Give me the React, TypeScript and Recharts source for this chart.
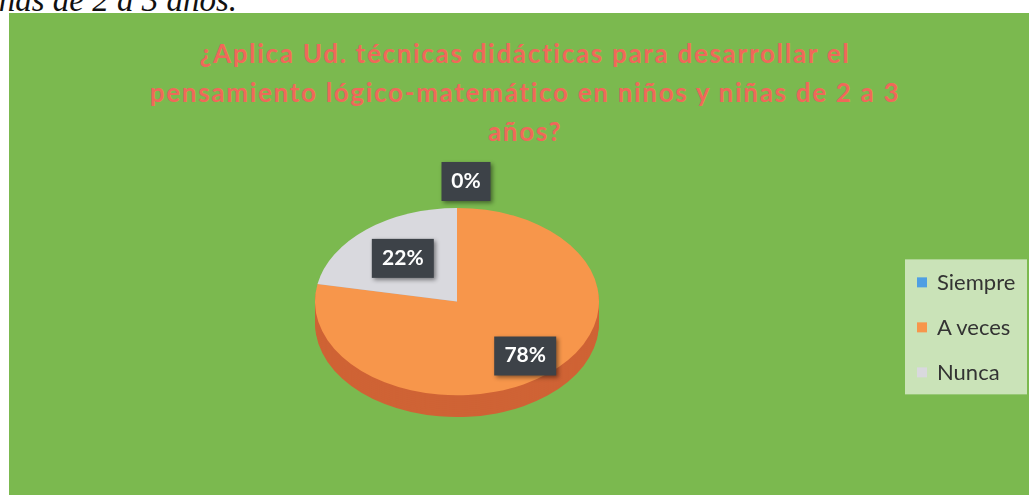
import { PieChart, Pie, Cell, Legend } from "recharts"

const categories = ["Siempre", "A veces", "Nunca"]
const values = [0, 78, 22]
const titleLines = [
    "¿Aplica Ud. técnicas didácticas para desarrollar el",
    "pensamiento lógico-matemático en niños y niñas de 2 a 3",
    "años?",
]

const TOP_COLORS = ["#4f9fe3", "#f7964b", "#d9d9de"]
const SIDE_COLORS = ["#2f78b8", "#cf6335", "#a8a8ae"]

// label placement per slice (unscaled px from centre)
const LABEL_R = [182, 107, 85]
const LABEL_DX = [9, 0, 0]

const SY = 0.66
const CX = 448
const CY = 260
const R = 142
const DEPTH = 33
const CHART_TOP = 302 - CY * SY

const data = categories.map((name, i) => ({ name, value: values[i] }))
const layers: number[] = []
for (let d = DEPTH; d > 0; d -= 3) layers.push(d)

const RAD = Math.PI / 180

function renderLabel(props: any) {
    const { cx, cy, midAngle, index, percent } = props
    const r = LABEL_R[index]
    const x = cx + r * Math.cos(-midAngle * RAD) + LABEL_DX[index]
    const y = cy + r * Math.sin(-midAngle * RAD)
    const txt = Math.round(percent * 100) + "%"
    const w = 23 + 13 * txt.length
    const h = 39
    return (
        <g transform={`translate(${x},${y}) scale(1,${1 / SY})`}>
            <rect x={-w / 2} y={-h / 2} width={w} height={h} fill="#3d4248"
                style={{ filter: "drop-shadow(2px 2px 2px rgba(0,0,0,0.45))" }} />
            <text x={0} y={1} textAnchor="middle" dominantBaseline="middle" fill="#ffffff"
                fontFamily="Lato, sans-serif" fontWeight={700} fontSize={21}>
                {txt}
            </text>
        </g>
    )
}

// legend built straight from the category list
function LegendBox() {
    return (
        <div style={{
            background: "rgba(255,255,255,0.6)", width: 122, height: 135, boxSizing: "border-box",
            fontFamily: "Lato, sans-serif", fontSize: 22, color: "#333",
        }}>
            {categories.map((c, i) => (
                <div key={c} style={{ display: "flex", alignItems: "center", height: 45 }}>
                    <span style={{ display: "inline-block", width: 10, height: 10, background: TOP_COLORS[i], marginLeft: 12, marginRight: 10 }} />
                    <span>{c}</span>
                </div>
            ))}
        </div>
    )
}

export default function App() {
    return (
        <div style={{ position: "fixed", left: 0, top: 0, width: 1029, height: 495, overflow: "hidden", background: "#fff" }}>
            <div style={{
                position: "absolute", left: -27, top: -18, fontFamily: "'Liberation Serif', serif",
                fontStyle: "italic", fontSize: 33, lineHeight: "normal", color: "#111", whiteSpace: "nowrap",
            }}>
                niñas de 2 a 3 años.
            </div>
            <div style={{ position: "absolute", left: 9, top: 13, width: 1030, height: 490, background: "#7bb94f" }}>
                <div style={{
                    position: "absolute", left: 0, top: 21, width: 1032, textAlign: "center",
                    fontFamily: "Lato, sans-serif", fontWeight: 700, fontSize: 26, letterSpacing: 1.7,
                    lineHeight: "39px", color: "#f0685a",
                }}>
                    {titleLines.map((l, i) => <div key={i}>{l}</div>)}
                </div>
            </div>
            <div style={{
                position: "absolute", left: 9, top: CHART_TOP, width: 1020, height: 520,
                transform: `scaleY(${SY})`, transformOrigin: "top left",
            }}>
                <PieChart width={1020} height={520} margin={{ top: 0, right: 0, bottom: 0, left: 0 }}>
                    {layers.map((d) => (
                        <Pie key={d} data={data} dataKey="value" nameKey="name" cx={CX} cy={CY + d}
                            outerRadius={R} startAngle={90} endAngle={-270} stroke="none"
                            legendType="none" isAnimationActive={false}>
                            {data.map((_, i) => <Cell key={i} fill={SIDE_COLORS[i]} />)}
                        </Pie>
                    ))}
                    <Pie data={data} dataKey="value" nameKey="name" cx={CX} cy={CY}
                        outerRadius={R} startAngle={90} endAngle={-270} stroke="none"
                        label={renderLabel} labelLine={false} legendType="square" isAnimationActive={false}>
                        {data.map((_, i) => <Cell key={i} fill={TOP_COLORS[i]} />)}
                    </Pie>
                    <Legend layout="vertical" align="right" verticalAlign="middle" content={LegendBox}
                        wrapperStyle={{
                            position: "absolute", left: 896, top: (260 - CHART_TOP) / SY, width: 122, height: "auto",
                            transform: `scaleY(${1 / SY})`, transformOrigin: "top left",
                        }} />
                </PieChart>
            </div>
        </div>
    )
}
